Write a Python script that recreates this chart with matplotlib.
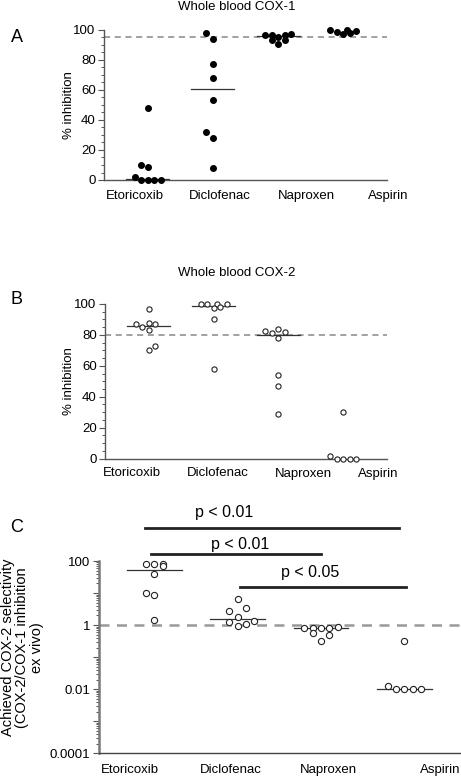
import numpy as np
import matplotlib
matplotlib.use("Agg")
import matplotlib.pyplot as plt
from matplotlib.ticker import MultipleLocator, LogLocator, FuncFormatter, NullFormatter

plt.rcParams["font.family"] = ["Liberation Sans", "DejaVu Sans"]

drugs = ["Etoricoxib", "Diclofenac", "Naproxen", "Aspirin"]

# A: whole blood COX-1, % inhibition
cox1_etor = [48, 10, 9, 2, 0, 0, 0, 0]
cox1_dicl = [98, 94, 77, 68, 53, 32, 28, 8]
cox1_napr = [96.5, 96.5, 93, 95.5, 90.5, 96.5, 93, 97.5]
cox1_aspi = [100, 98.7, 97.3, 100, 97.8, 99.5]
cox1_median = [1, 60.5, 96, None]
cox1_ref = 95

# B: whole blood COX-2, % inhibition
cox2_etor = [97, 87, 85, 88, 83, 87, 73, 70]
cox2_dicl = [100, 100, 100, 100, 97.5, 98, 90, 58]
cox2_napr = [82.5, 81.5, 84, 82, 78, 54, 47, 29]
cox2_aspi = [30, 1.5, 0, 0, 0, 0]
cox2_median = [86, 99, 79.75, None]
cox2_ref = 80

# C: achieved COX-2 selectivity (ratio)
sel_etor = [81, 81, 81, 68, 40, 10.4, 8.6, 1.46]
sel_dicl = [6.6, 2.7, 3.4, 1.85, 1.27, 1.36, 0.97, 1.06]
sel_napr = [0.83, 0.80, 0.58, 0.79, 0.33, 0.83, 0.48, 0.85]
sel_aspi = [0.31, 0.013, 0.01, 0.01, 0.01, 0.01]
sel_median = [54, 1.6, 0.795, 0.01]
sel_ref = 1

sig_labels = ["p < 0.01", "p < 0.01", "p < 0.05"]

# horizontal scatter of the dots (layout only)
jit_a = [[0, -0.1, 0, -0.2, -0.1, 0, 0.1, 0.2],
         [-0.1, 0, 0, 0, 0, -0.1, 0, 0],
         [-0.2, -0.1, -0.1, 0, 0, 0.1, 0.1, 0.2],
         [-0.2, -0.1, 0, 0.05, 0.1, 0.2]]
jit_b = [[0, -0.2, -0.1, 0, 0, 0.1, 0.1, 0],
         [-0.2, -0.1, 0.05, 0.2, 0, 0.1, 0, 0],
         [-0.2, -0.1, 0, 0.1, 0, 0, 0, 0],
         [0, -0.2, -0.1, 0, 0.1, 0.2]]
jit_c = [[-0.1, 0, 0.1, 0.1, 0, -0.1, 0, 0],
         [0, -0.1, 0.1, 0, -0.1, 0.2, 0, 0.1],
         [-0.2, -0.1, -0.1, 0, 0, 0.1, 0.1, 0.2],
         [0, -0.2, -0.1, 0, 0.1, 0.2]]

W, H = 461, 777
fig = plt.figure(figsize=(W / 100, H / 100), dpi=100)


def px_axes(left, right, top, bottom):
    return fig.add_axes([left / W, 1 - bottom / H, (right - left) / W, (bottom - top) / H])


def style(ax, spine_col="#555555", lw=1.0):
    for s in ["top", "right"]:
        ax.spines[s].set_visible(False)
    for s in ["left", "bottom"]:
        ax.spines[s].set_color(spine_col)
        ax.spines[s].set_linewidth(lw)
    ax.tick_params(axis="y", which="major", length=4, width=0.8, color=spine_col,
                   labelsize=9.5, pad=2)
    ax.tick_params(axis="y", which="minor", length=2.5, width=0.7, color=spine_col)
    ax.tick_params(axis="x", length=0, labelbottom=False)
    ax.set_xlim(0.33, 4.67)
    ax.patch.set_visible(False)


def dots(ax, groups, jits, filled, size):
    for i, (vals, jit) in enumerate(zip(groups, jits)):
        x = [i + 1 + j for j in jit]
        if filled:
            ax.scatter(x, vals, s=size, color="black", clip_on=False, zorder=3)
        else:
            ax.scatter(x, vals, s=size, facecolor="white", edgecolor="#222222",
                       linewidth=0.8, clip_on=False, zorder=3)


def medians(ax, meds):
    for i, m in enumerate(meds):
        if m is not None:
            ax.plot([i + 1 - 0.33, i + 1 + 0.33], [m, m], color="#333333", lw=0.9, zorder=2)


def xlabels(ax, xs, dy):
    for name, x in zip(drugs, xs):
        ax.annotate(name, (x, 0), xycoords=ax.get_xaxis_transform(),
                    xytext=(0, -dy), textcoords="offset pixels",
                    ha="center", va="center", fontsize=9.5, annotation_clip=False)


# ---- A ----
axA = px_axes(104, 387, 30, 180)
style(axA)
axA.set_ylim(0, 100)
axA.yaxis.set_major_locator(MultipleLocator(20))
axA.yaxis.set_minor_locator(MultipleLocator(5))
axA.axhline(cox1_ref, color="#888888", lw=1.1, ls=(0, (4, 3)), zorder=1)
medians(axA, cox1_median)
dots(axA, [cox1_etor, cox1_dicl, cox1_napr, cox1_aspi], jit_a, True, 16)
axA.set_ylabel("% inhibition", fontsize=9.5)
axA.yaxis.set_label_coords(-0.102, 0.5)
xlabels(axA, [0.8, 2.11, 3.44, 4.69], 16)
fig.text(237 / W, 1 - 7 / H, "Whole blood COX-1", ha="center", va="center", fontsize=9.5)
fig.text(17 / W, 1 - 37 / H, "A", ha="center", va="center", fontsize=13)

# ---- B ----
axB = px_axes(105, 387, 304, 458.5)
style(axB)
axB.set_ylim(0, 100)
axB.yaxis.set_major_locator(MultipleLocator(20))
axB.yaxis.set_minor_locator(MultipleLocator(5))
axB.axhline(cox2_ref, color="#888888", lw=1.1, ls=(0, (4, 3)), zorder=1)
medians(axB, cox2_median)
dots(axB, [cox2_etor, cox2_dicl, cox2_napr, cox2_aspi], jit_b, False, 14)
axB.set_ylabel("% inhibition", fontsize=9.5)
axB.yaxis.set_label_coords(-0.106, 0.5)
xlabels(axB, [0.74, 2.07, 3.39, 4.53], 15)
fig.text(237 / W, 1 - 273 / H, "Whole blood COX-2", ha="center", va="center", fontsize=9.5)
fig.text(17 / W, 1 - 299 / H, "B", ha="center", va="center", fontsize=13)

# ---- C ----
axC = px_axes(98.7, 460, 561, 753.3)
style(axC, spine_col="#444444")
axC.spines["left"].set_linewidth(1.8)
axC.spines["left"].set_color("#777777")
axC.set_yscale("log")
axC.set_ylim(1e-4, 100)
axC.yaxis.set_major_locator(LogLocator(base=10, numticks=20))
axC.yaxis.set_minor_locator(LogLocator(base=10, subs=np.arange(2, 10), numticks=20))
axC.yaxis.set_minor_formatter(NullFormatter())
axC.yaxis.set_major_formatter(FuncFormatter(
    lambda v, p: f"{v:g}" if round(np.log10(v)) % 2 == 0 else ""))
axC.tick_params(axis="y", which="both", color="#555555")
axC.axhline(sel_ref, color="#999999", lw=1.8, ls=(0, (4, 3)), zorder=1)
medians(axC, sel_median)
dots(axC, [sel_etor, sel_dicl, sel_napr, sel_aspi], jit_c, False, 20)
axC.set_ylabel("Achieved COX-2 selectivity\n(COX-2/COX-1 inhibition\nex vivo)",
               fontsize=10.5, linespacing=1.05)
axC.yaxis.set_label_coords(-0.152, 0.55)
xlabels(axC, [0.71, 1.92, 3.09, 4.43], 17)
fig.text(17 / W, 1 - 528 / H, "C", ha="center", va="center", fontsize=13)

# significance bars: line x span, line height and text height in axes fraction
sig_spans = [(0.89, 3.94), (0.96, 3.0), (2.03, 4.02)]
sig_line_y = [1.172, 1.038, 0.863]
sig_text_x = [1.84, 2.03, 2.87]
sig_text_y = [1.25, 1.088, 0.94]
tr = axC.get_xaxis_transform()
for (x0, x1), ly, tx, ty, lab in zip(sig_spans, sig_line_y, sig_text_x, sig_text_y, sig_labels):
    axC.plot([x0, x1], [ly, ly], transform=tr, color="#222222", lw=2.0, clip_on=False)
    axC.text(tx, ty, lab, transform=tr, ha="center", va="center", fontsize=11.5)

fig.savefig("out.png", dpi=100)
